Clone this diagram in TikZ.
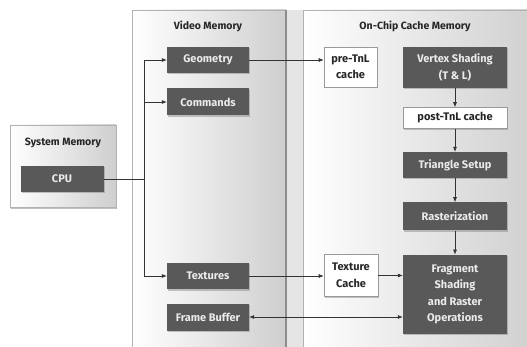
\documentclass[tikz,border=0pt]{standalone}
\usepackage{fontspec}
\setmainfont{Fira Sans}
\usetikzlibrary{positioning,shadows,arrows.meta}

\tikzset{
	panel/.style={draw=gray!60, line width=0.8pt, left color=white, right color=gray!38},
	paneltitle/.style={font=\bfseries\fontsize{10.5}{12}\selectfont, text=black!85},
	boxfont/.style={font=\bfseries\fontsize{11}{16.5}\selectfont},
	darkbox/.style={boxfont, fill=black!65, text=white!92!black, align=center,
		inner sep=1pt, minimum width=104pt,
		drop shadow={shadow xshift=1pt, shadow yshift=-1.5pt, opacity=0.45}},
	lightbox/.style={boxfont, draw=gray!80, fill=white, text=black!85,
		align=center, inner sep=1pt, line width=0.6pt,
		drop shadow={shadow xshift=1pt, shadow yshift=-1.5pt, opacity=0.45}},
	link/.style={-{Latex[length=5pt,width=4pt]}, line width=0.6pt, draw=black!80},
}

\begin{document}
\begin{tikzpicture}[x=1pt, y=-1pt]
	\useasboundingbox (0,0) rectangle (527,347);
	% memory areas
	\fill[black!10] (286,10) rectangle (303,347);
	\draw[panel, drop shadow={shadow xshift=1pt, shadow yshift=-2pt, opacity=0.5}] (10,125) rectangle (116,207);
	\draw[panel] (132,10) rectangle (286,360);
	\draw[gray!90, line width=1.6pt] (286,10) -- (286,347);
	\draw[panel] (303,10) rectangle (540,360);
	\node[paneltitle] (systitle) at (63,143) {System Memory};
	\node[paneltitle] (vidtitle) at (208,26) {Video Memory};
	\node[paneltitle] (chiptitle) at (415,26) {On-Chip Cache Memory};

	% system and video memory
	\node[darkbox, minimum width=83pt, minimum height=26pt] (cpu) at (62,179) {CPU};
	\node[darkbox, minimum width=82pt, minimum height=26pt] (geom) at (208,60) {Geometry};
	\node[darkbox, minimum width=82pt, minimum height=27pt] (cmds) at (208,102) {Commands};
	\node[darkbox, minimum width=82pt, minimum height=26pt] (tex) at (208,276) {Textures};
	\node[darkbox, minimum width=82pt, minimum height=27pt] (fb) at (208,317) {Frame Buffer};

	% on-chip pipeline
	\node[lightbox, minimum width=53pt, minimum height=40pt] (pretnl) at (350.5,67) {pre-TnL\\cache};
	\node[darkbox, minimum height=41pt] (vs) at (455,67.5) {Vertex Shading\\(T \& L)};
	\node[lightbox, minimum width=104pt, minimum height=21pt, below=19pt of vs] (posttnl) {post-TnL cache};
	\node[darkbox, minimum height=26pt, below=23pt of posttnl] (tri) {Triangle Setup};
	\node[darkbox, minimum height=28pt, below=24pt of tri] (rast) {Rasterization};
	\node[darkbox, minimum height=79pt, below=24pt of rast] (frag) {Fragment\\Shading\\and Raster\\Operations};
	\node[lightbox, minimum width=54pt, minimum height=42pt] (texc) at (351,275.5) {Texture\\Cache};

	% connections
	\coordinate (bus) at (144,179);
	\draw[line width=0.6pt, black!80] (cpu.east) -- (bus);
	\draw[link] (bus) |- (geom.west);
	\draw[link] (bus) |- (cmds.west);
	\draw[link] (bus) |- (tex.west);
	\draw[link] (geom.east) -- (geom.east -| pretnl.west);
	\draw[link] (vs) -- (posttnl);
	\draw[link] (posttnl) -- (tri);
	\draw[link] (tri) -- (rast);
	\draw[link] (rast) -- (frag);
	\draw[link] (tex.east) -- (tex.east -| texc.west);
	\draw[link] (texc.east) -- (texc.east -| frag.west);
	\draw[link, {Latex[length=5pt,width=4pt]}-{Latex[length=5pt,width=4pt]}] (fb.east) -- (fb.east -| frag.west);
\end{tikzpicture}
\end{document}
